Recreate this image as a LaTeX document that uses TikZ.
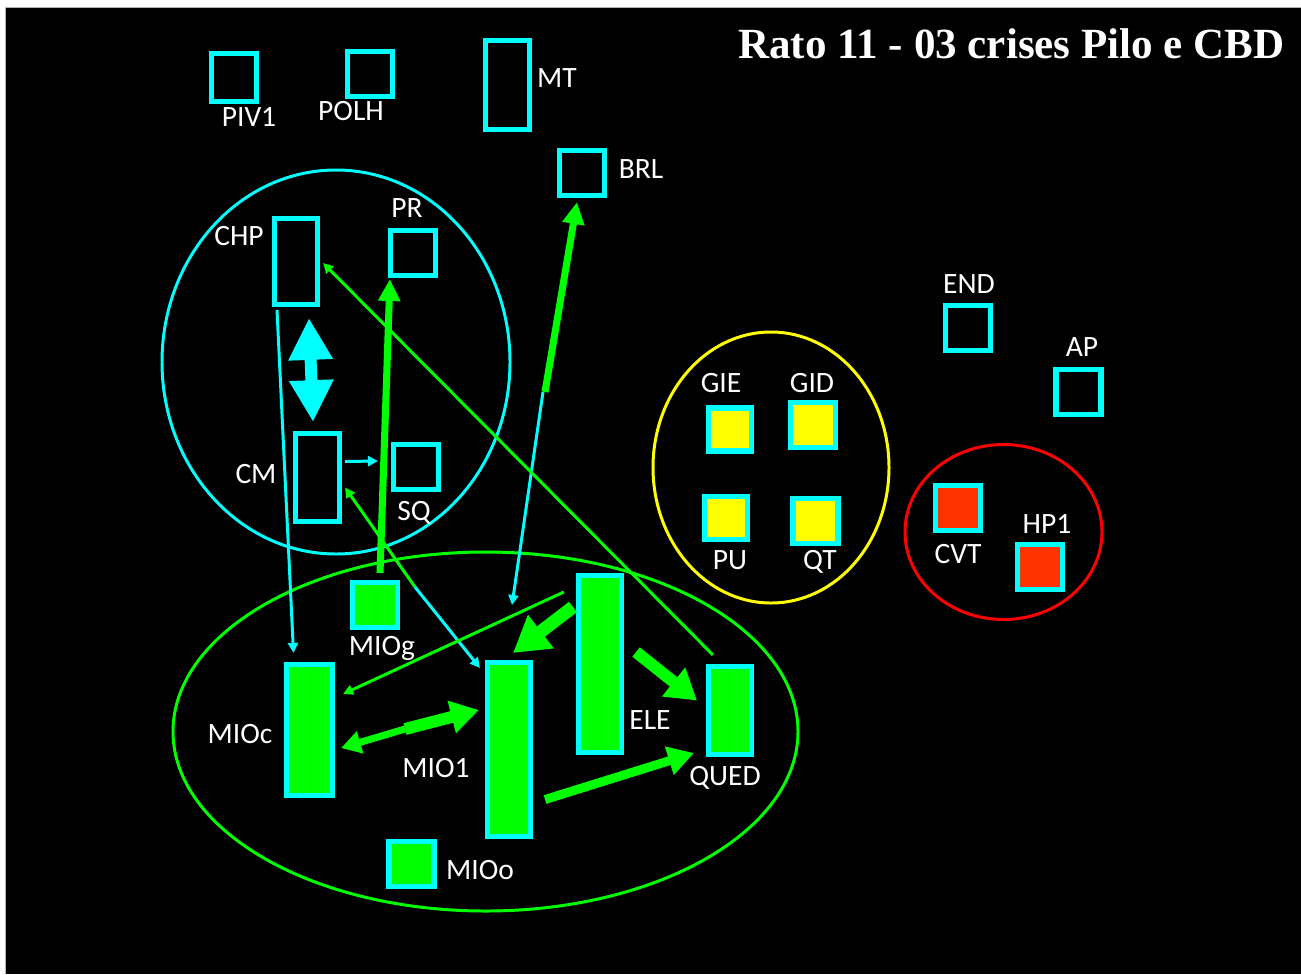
\documentclass[tikz,border=0pt]{standalone}
\usepackage{fontspec}
\setmainfont{Carlito}
\newfontfamily\titlefont{Liberation Serif}
\usepackage{tikz}
\usetikzlibrary{arrows.meta}

\definecolor{ciano}{HTML}{00FFFF}
\definecolor{verde}{HTML}{00FF00}
\definecolor{amarelo}{HTML}{FFFF00}
\definecolor{vermelho}{HTML}{FF0000}
\definecolor{laranja}{HTML}{FF3300}

\begin{document}
\begin{tikzpicture}[x=0.2mm, y=-0.2mm,
  box/.style={draw=ciano, line width=2.9pt, inner sep=0pt, minimum width=9mm, minimum height=9mm},
  mio/.style={box, fill=verde},
  gland/.style={box, fill=amarelo},
  cvt/.style={box, fill=laranja},
  lab/.style={text=white, anchor=base, inner sep=0pt, font=\fontsize{16.8pt}{19pt}\selectfont},
  fio/.style={line width=1.7pt, -{Triangle[width=5.7pt,length=5.7pt]}},
  seta/.style args={#1/#2/#3}{line width=#1, -{Triangle[width=#2,length=#3]}},
  grupo/.style={line width=1.7pt}]
\useasboundingbox (0,0) rectangle (1301,974);
\fill[white] (0,0) rectangle (1301,974);
\fill[black] (5,7) rectangle (1301,974);
\draw[gray!60, line width=0.5pt] (5,974) -- (5,7) -- (1301,7);

\draw[ciano, grupo] (336,362) ellipse [x radius=34.8mm, y radius=38.4mm];
\draw[verde, grupo] (485.5,731.5) ellipse [x radius=62.5mm, y radius=35.9mm];
\draw[amarelo, grupo] (771,467.5) ellipse [x radius=23.6mm, y radius=27.1mm];
\draw[vermelho, grupo] (1003.5,532) ellipse [x radius=19.7mm, y radius=17.5mm];

\node[box, minimum height=9.6mm] (piv) at (234,77.5) {};
\node[box] (polh) at (370,74) {};
\node[box, minimum width=8.8mm, minimum height=17.8mm] (mt) at (507.5,85) {};
\node[box] (brl) at (582,173) {};
\node[box, minimum width=8.6mm, minimum height=17.2mm] (chp) at (296,261.5) {};
\node[box] (pr) at (413,253) {};
\node[box, minimum width=8.8mm, minimum height=17.6mm] (cm) at (317.5,477.5) {};
\node[box] (sq) at (416,467) {};
\node[mio] (miog) at (375,605) {};
\node[mio, minimum width=9.2mm, minimum height=26.2mm] (mioc) at (309.5,730) {};
\node[mio, minimum width=8.6mm, minimum height=34.8mm] (mio1) at (509,749.5) {};
\node[mio, minimum width=8.6mm, minimum height=35.4mm] (ele) at (600,664) {};
\node[mio, minimum width=8.6mm, minimum height=17.6mm] (qued) at (730,710.5) {};
\node[mio] (mioo) at (411.5,864) {};
\node[gland, minimum size=8.6mm] (gie) at (730,429.5) {};
\node[gland] (gid) at (813,425) {};
\node[gland, minimum size=8.6mm] (pu) at (726,518) {};
\node[gland] (qt) at (815.5,521) {};
\node[box] (endo) at (968,328) {};
\node[box] (ap) at (1078.5,392) {};
\node[cvt] (cvt) at (958,508) {};
\node[cvt] (hp) at (1040,567) {};

\node[lab] (piv-lab) at (249,126) {PIV1};
\node[lab] (polh-lab) at (351,120) {POLH};
\node[lab] (mt-lab) at (557,87) {MT};
\node[lab] (brl-lab) at (641,178) {BRL};
\node[lab] (chp-lab) at (239,245) {CHP};
\node[lab] (pr-lab) at (407,217) {PR};
\node[lab] (cm-lab) at (256,483) {CM};
\node[lab] (sq-lab) at (414,520) {SQ};
\node[lab] (miog-lab) at (382,655) {MIOg};
\node[lab] (mioc-lab) at (240,743) {MIOc};
\node[lab] (mio1-lab) at (436,777) {MIO1};
\node[lab] (ele-lab) at (650,729) {ELE};
\node[lab] (qued-lab) at (725,785) {QUED};
\node[lab] (mioo-lab) at (480,879) {MIOo};
\node[lab] (gie-lab) at (721,392) {GIE};
\node[lab] (gid-lab) at (812,392) {GID};
\node[lab] (pu-lab) at (730,569) {PU};
\node[lab] (qt-lab) at (820,569) {QT};
\node[lab] (endo-lab) at (969,293) {END};
\node[lab] (ap-lab) at (1082,356) {AP};
\node[lab] (cvt-lab) at (958,563) {CVT};
\node[lab] (hp-lab) at (1047,533) {HP1};
\node[text=white, anchor=base, inner sep=0pt, font=\titlefont\bfseries\fontsize{24.5pt}{28pt}\selectfont] (titulo) at (1011.5,58) {Rato 11 - 03 crises Pilo e CBD};

\coordinate (meio-brl) at (545,392);
\coordinate (ponta-brl) at (512,605);
\coordinate (meio-cm) at (415,587);
\coordinate (meio-mio) at (405,729);
\coordinate (dupla-a) at (309,318);
\coordinate (dupla-b) at (313,422);

\draw[ciano, line width=6.8pt, {Triangle[width=23.8pt,length=23.8pt]}-{Triangle[width=23.8pt,length=23.8pt]}] (dupla-a) -- (dupla-b);
\draw[ciano, fio] ([shift={(-19,3)}]chp.south) -- ([shift={(-16,-9)}]mioc.north);
\draw[ciano, fio] ([shift={(3,-16)}]cm.east) -- ([shift={(-13,-6)}]sq.west);
\draw[verde, seta={4pt/12pt/12.5pt}] ([shift={(5,-7)}]miog.north) -- ([shift={(2,1)}]pr.south west);
\draw[verde, seta={4pt/12pt/12.5pt}] (meio-brl) -- ([shift={(-5,4)}]brl.south);
\draw[ciano, fio] ([xshift=-0.4mm]meio-brl) -- (ponta-brl);
\draw[verde, fio] (meio-cm) -- ([shift={(3,10)}]cm.east);
\draw[ciano, fio] (meio-cm) -- ([shift={(-5,8)}]mio1.north west);
\draw[verde, fio] ([shift={(-17,-9)}]qued.north) -- ([shift={(3,1.5)}]chp.east);
\draw[verde, fio] ([shift={(-12,19)}]ele.north west) -- ([shift={(8,-36)}]mioc.east);
\draw[verde, seta={7.4pt/22.7pt/20pt}] ([shift={(-3,34)}]ele.north west) -- ([shift={(4,-7)}]mio1.north);
\draw[verde, seta={6.8pt/20pt/17pt}] ([shift={(12,-12)}]ele.east) -- ([shift={(-9,-10)}]qued.west);
\draw[verde, seta={5.1pt/16pt/14.7pt}] ([shift={(12,50)}]mio1.east) -- ([shift={(-12,-4)}]qued.south west);
\draw[verde, seta={4pt/12.5pt/11.3pt}] (meio-mio) -- ([shift={(6,18)}]mioc.east);
\draw[verde, seta={6.8pt/18pt/16pt}] (meio-mio) -- ([shift={(-6,-39.5)}]mio1.west);
\end{tikzpicture}
\end{document}
